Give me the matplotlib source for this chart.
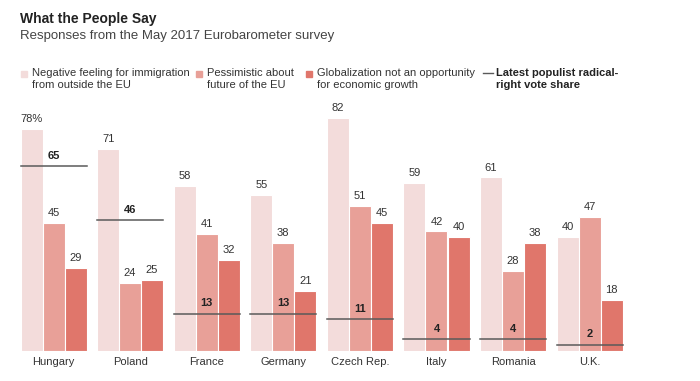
import numpy as np
import matplotlib.pyplot as plt
from matplotlib.patches import Rectangle
from matplotlib.lines import Line2D

plt.rcParams['font.family'] = ['Liberation Sans', 'DejaVu Sans']

# data
countries = ['Hungary', 'Poland', 'France', 'Germany', 'Czech Rep.', 'Italy', 'Romania', 'U.K.']
immigration = [78, 71, 58, 55, 82, 59, 61, 40]
pessimistic = [45, 24, 41, 38, 51, 42, 28, 47]
globalization = [29, 25, 32, 21, 45, 40, 38, 18]
populist_vote = [65, 46, 13, 13, 11, 4, 4, 2]

series_labels = ['Negative feeling for immigration\nfrom outside the EU',
                 'Pessimistic about\nfuture of the EU',
                 'Globalization not an opportunity\nfor economic growth']
line_label = 'Latest populist radical-\nright vote share'
colors = ['#f3dcdb', '#e8a098', '#e0766b']
line_color = '#5a5a5a'
text_color = '#333333'

W, H = 700, 381
fig = plt.figure(figsize=(W / 100, H / 100), dpi=100)

# axes spans full width; group spacing ~76.6 px, Hungary centre at 53.5 px
spacing = 76.6
x0 = 53.5
base_px = 30.3
top_px = 281
ax = fig.add_axes([0, base_px / H, 1, (top_px - base_px) / H])
ax.set_xlim(-x0 / spacing, (W - x0) / spacing)
ax.set_ylim(0, (top_px - base_px) / 2.84)
ax.axis('off')

x = np.arange(len(countries))
bw = 22 / spacing
for k, vals in enumerate([immigration, pessimistic, globalization]):
    xs = x + (k - 1) * bw
    ax.bar(xs, vals, width=bw, color=colors[k], edgecolor='white', linewidth=0.8)
    for xi, v, i in zip(xs, vals, range(len(vals))):
        lab = f'{v}%' if (k == 0 and i == 0) else f'{v}'
        ax.annotate(lab, (xi, v), xytext=(0, 3.5), textcoords='offset points',
                    ha='center', va='bottom', fontsize=8, color=text_color)

for xi, v in zip(x, populist_vote):
    ax.plot([xi - 1.5 * bw, xi + 1.5 * bw], [v, v], color=line_color, lw=1.1)
    ax.annotate(str(v), (xi, v), xytext=(0, 4), textcoords='offset points',
                ha='center', va='bottom', fontsize=8, fontweight='bold', color='#222222')

for xi, c in zip(x, countries):
    ax.annotate(c, (xi, 0), xytext=(0, -4.5), textcoords='offset points',
                ha='center', va='top', fontsize=8, color=text_color)

# title and subtitle
fig.text(20 / W, 1 - 12 / H, 'What the People Say', fontsize=10, fontweight='bold',
         color='#222222', va='top', ha='left')
fig.text(20 / W, 1 - 30 / H, 'Responses from the May 2017 Eurobarometer survey',
         fontsize=9.5, color='#444444', va='top', ha='left')

# legend drawn by hand
sq_x = [20.7, 195.7, 305.7]
for sx, c, lab in zip(sq_x, colors, series_labels):
    fig.patches.append(Rectangle((sx / W, 1 - 77 / H), 6 / W, 6 / H, color=c,
                                 transform=fig.transFigure, figure=fig))
    fig.text((sx + 11) / W, 1 - 67.5 / H, lab, fontsize=8, color=text_color,
             va='top', ha='left', linespacing=1.3)
fig.lines.append(Line2D([482.7 / W, 492.7 / W], [1 - 73 / H, 1 - 73 / H],
                        color=line_color, lw=1.0, transform=fig.transFigure, figure=fig))
fig.text(496 / W, 1 - 67.5 / H, line_label, fontsize=8, fontweight='bold',
         color='#222222', va='top', ha='left', linespacing=1.3)

fig.savefig('out.png', dpi=100)
